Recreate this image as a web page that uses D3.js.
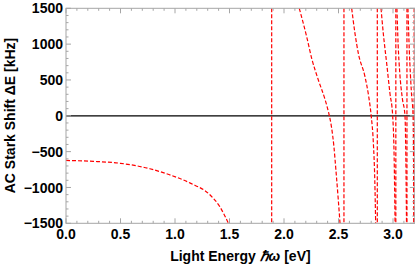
<!DOCTYPE html>
<html>
<head>
<meta charset="utf-8">
<script src="https://cdn.jsdelivr.net/npm/d3@7"></script>
<style>
  html, body { margin: 0; padding: 0; background: #fff; }
  svg { display: block; }
  text { font-family: "Liberation Sans", Arial, sans-serif; font-weight: bold; fill: #000; }
</style>
</head>
<body>
<svg id="chart"></svg>
<script>
// tick values
const energyTicks = [0, 0.5, 1.0, 1.5, 2.0, 2.5, 3.0];
const shiftTicks = [-1500, -1000, -500, 0, 500, 1000, 1500];

// resonance energies (eV) where the shift diverges
const resonances = [1.887, 2.55, 2.856, 3.026, 3.128, 3.194];

// branches of the shift curve between resonances, [energy eV, shift kHz]
const branch1 = [[0, -623], [0.25, -636], [0.5, -663], [0.77, -739], [0.95, -823], [1.14, -939], [1.32, -1102], [1.41, -1265], [1.49, -1500]];
const branch2 = [[2.14, 1500], [2.208, 1104], [2.254, 802], [2.315, 500], [2.376, 230], [2.41, 40], [2.435, -150], [2.458, -430], [2.478, -790], [2.497, -1150], [2.514, -1500]];
const branch3 = [[2.621, 1500], [2.651, 1151], [2.682, 872], [2.743, 546], [2.775, 290], [2.8, 0], [2.82, -384], [2.833, -900], [2.841, -1500]];
const branch4 = [[2.89, 1500], [2.911, 1150], [2.942, 732], [2.972, 314], [2.997, 0], [3.012, -710], [3.019, -1500]];
const branch5 = [[3.036, 1500], [3.047, 1000], [3.062, 600], [3.085, 250], [3.11, 0], [3.118, -600], [3.124, -1500]];
const branch6 = [[3.137, 1500], [3.15, 900], [3.168, 350], [3.184, 0], [3.189, -700], [3.191, -1500]];
const branches = [branch1, branch2, branch3, branch4, branch5, branch6];

const width = 415, height = 266;
const margin = {top: 8, right: 1, bottom: 43, left: 66};

const x = d3.scaleLinear().domain([0, 3.2]).range([0, 348.8]);
const y = d3.scaleLinear().domain([-1500, 1500]).range([215, 0]);

const svg = d3.select("#chart").attr("width", width).attr("height", height);
const g = svg.append("g").attr("transform", `translate(${margin.left},${margin.top + 0.3})`);
const pw = x.range()[1], ph = y.range()[0];

g.append("clipPath").attr("id", "clip")
    .append("rect").attr("width", pw).attr("height", ph);

const plot = g.append("g").attr("clip-path", "url(#clip)");

// zero line
plot.append("line")
    .attr("x1", 0).attr("x2", pw)
    .attr("y1", y(0)).attr("y2", y(0))
    .attr("stroke", "#000").attr("stroke-width", 1.3);

const line = d3.line()
    .x(d => x(d[0]))
    .y(d => y(d[1]))
    .curve(d3.curveMonotoneX);

plot.selectAll("path.branch")
    .data(branches)
    .enter().append("path")
    .attr("class", "branch")
    .attr("d", line)
    .attr("fill", "none")
    .attr("stroke", "#f00")
    .attr("stroke-width", 1.2)
    .attr("stroke-dasharray", "4,2");

plot.selectAll("line.pole")
    .data(resonances)
    .enter().append("line")
    .attr("class", "pole")
    .attr("x1", d => x(d)).attr("x2", d => x(d))
    .attr("y1", 0).attr("y2", ph)
    .attr("stroke", "#f00")
    .attr("stroke-width", 1.2)
    .attr("stroke-dasharray", "4,2");

// frame and ticks
const frameColor = "#a6a6a6";
g.append("rect")
    .attr("width", pw).attr("height", ph)
    .attr("fill", "none").attr("stroke", frameColor).attr("stroke-width", 1);

const xMinor = d3.range(0, 32).map(i => i / 10).filter(v => !energyTicks.some(t => Math.abs(t - v) < 1e-6));
const yMinor = d3.range(-15, 16).map(i => i * 100).filter(v => !shiftTicks.includes(v));

function ticksX(vals, len) {
    vals.forEach(v => {
        g.append("line").attr("x1", x(v)).attr("x2", x(v)).attr("y1", ph).attr("y2", ph - len)
            .attr("stroke", frameColor);
        g.append("line").attr("x1", x(v)).attr("x2", x(v)).attr("y1", 0).attr("y2", len)
            .attr("stroke", frameColor);
    });
}
function ticksY(vals, len) {
    vals.forEach(v => {
        g.append("line").attr("x1", 0).attr("x2", len).attr("y1", y(v)).attr("y2", y(v))
            .attr("stroke", frameColor);
        g.append("line").attr("x1", pw).attr("x2", pw - len).attr("y1", y(v)).attr("y2", y(v))
            .attr("stroke", frameColor);
    });
}
ticksX(energyTicks, 5);
ticksX(xMinor, 2.5);
ticksY(shiftTicks, 5);
ticksY(yMinor, 2.5);

// tick labels
g.selectAll("text.xt")
    .data(energyTicks)
    .enter().append("text")
    .attr("x", d => x(d)).attr("y", ph + 15.5)
    .attr("text-anchor", "middle")
    .style("font-size", "14px")
    .text(d3.format(".1f"));

g.selectAll("text.yt")
    .data(shiftTicks)
    .enter().append("text")
    .attr("x", -3).attr("y", d => y(d))
    .attr("dy", "0.36em")
    .attr("text-anchor", "end")
    .style("font-size", "14px")
    .text(d => d < 0 ? "\u2212" + Math.abs(d) : d);

// axis titles
svg.append("text")
    .attr("x", margin.left + pw / 2).attr("y", 261)
    .attr("text-anchor", "middle")
    .style("font-size", "14px")
    .html('Light Energy <tspan font-style="italic">ℏω</tspan> [eV]');

svg.append("text")
    .attr("transform", `translate(15,${margin.top + ph / 2}) rotate(-90)`)
    .attr("text-anchor", "middle")
    .style("font-size", "14px")
    .text("AC Stark Shift ΔE [kHz]");
</script>
</body>
</html>
